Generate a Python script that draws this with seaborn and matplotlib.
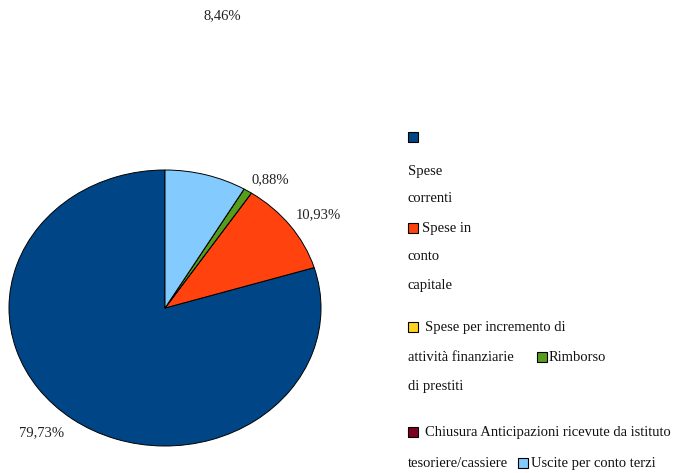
import matplotlib
matplotlib.use("Agg")
import matplotlib.pyplot as plt
from matplotlib.patches import Rectangle
import seaborn as sns

sns.set_theme(style="white")
plt.rcParams['font.family'] = ['Liberation Serif', 'DejaVu Serif']

# dati
categorie = ['Spese correnti', 'Spese in conto capitale',
             'Spese per incremento di attività finanziarie', 'Rimborso di prestiti',
             'Chiusura Anticipazioni ricevute da istituto tesoriere/cassiere',
             'Uscite per conto terzi']
valori = [79.73, 10.93, 0.0, 0.88, 0.0, 8.46]
etichette = ['79,73%', '10,93%', '', '0,88%', '', '8,46%']
colori = ['#004586', '#ff420e', '#ffd320', '#579d1c', '#7e0021', '#83caff']

W, H = 673, 473
fig = plt.figure(figsize=(W / 100, H / 100), dpi=100)


def fx(x):
    return x / W


def fy(y):
    return 1 - y / H


# torta (leggermente ellittica come nell'originale)
ax = fig.add_axes([fx(9), fy(446), 312 / W, 276 / H])
ax.pie(valori, colors=colori, startangle=90, counterclock=True,
       wedgeprops=dict(edgecolor='black', linewidth=0.7))
ax.set_aspect('auto')
ax.set_xlim(-1, 1)
ax.set_ylim(-1, 1)
ax.axis('off')

# etichette percentuali
pos_etichette = {'79,73%': (-0.79, -0.9), '10,93%': (0.98, 0.674),
                 '0,88%': (0.673, 0.93), '8,46%': (0.365, 2.12)}
for et in etichette:
    if et:
        x, y = pos_etichette[et]
        ax.text(x, y, et, ha='center', va='center', fontsize=10.5,
                color='#222222', clip_on=False)

# legenda disegnata a mano (a capo come nell'originale)
fs = 10.5


def quadrato(x, y, c):
    fig.patches.append(Rectangle((fx(x), fy(y + 5)), 10 / W, 10 / H,
                                 transform=fig.transFigure, facecolor=c,
                                 edgecolor='black', linewidth=0.8))


def testo(x, y, s):
    fig.text(fx(x), fy(y), s, ha='left', va='center', fontsize=fs, color='#111111')


quadrato(408, 137, colori[0])
testo(408, 171, 'Spese')
testo(408, 199, 'correnti')
quadrato(408, 228, colori[1])
testo(422, 228, 'Spese in')
testo(408, 256, 'conto')
testo(408, 285, 'capitale')
quadrato(408, 327, colori[2])
testo(425, 327, 'Spese per incremento di')
testo(408, 357, 'attività finanziarie')
quadrato(537, 357, colori[3])
testo(549, 357, 'Rimborso')
testo(408, 386, 'di prestiti')
quadrato(408, 432, colori[4])
testo(425, 432, 'Chiusura Anticipazioni ricevute da istituto')
testo(408, 463, 'tesoriere/cassiere')
quadrato(518, 463, colori[5])
testo(531, 463, 'Uscite per conto terzi')

fig.savefig('out.png', dpi=100)
